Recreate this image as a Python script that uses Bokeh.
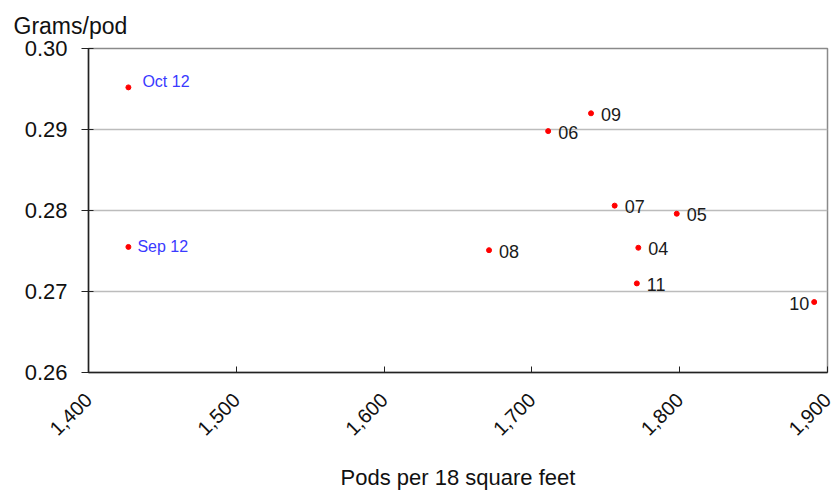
import math
from bokeh.plotting import figure
from bokeh.models import ColumnDataSource, NumeralTickFormatter, FixedTicker, Range1d
from bokeh.embed import file_html
from bokeh.resources import INLINE

# data
years = ["09", "06", "07", "05", "08", "04", "11", "10"]
pods = [1740, 1711, 1756, 1798, 1671, 1772, 1771, 1891]
grams = [0.2920, 0.2898, 0.2806, 0.2796, 0.2751, 0.2754, 0.2710, 0.2687]

forecast_labels = ["Oct 12", "Sep 12"]
forecast_pods = [1427, 1427]
forecast_grams = [0.2952, 0.2755]

x_ticks = [1400, 1500, 1600, 1700, 1800, 1900]
y_ticks = [0.26, 0.27, 0.28, 0.29, 0.30]
y_title = "Grams/pod"

FONT = "Liberation Sans"

p = figure(width=835, height=495, output_backend="svg", toolbar_location=None,
           x_range=Range1d(1400, 1900), y_range=Range1d(0.26, 0.30),
           min_border_left=88, min_border_right=8, min_border_top=47, min_border_bottom=123,
           title=y_title)
p.title.text_font = FONT
p.title.text_font_size = "23px"
p.title.text_font_style = "normal"
p.title.text_color = "#111111"
p.title.align = "left"
p.title.offset = -75
p.title.standoff = 20

p.outline_line_color = "#8a8a8a"
p.outline_line_width = 1.5

p.xgrid.grid_line_color = None
p.ygrid.grid_line_color = "#bcbcbc"
p.ygrid.grid_line_width = 1.5

p.xaxis.ticker = FixedTicker(ticks=x_ticks)
p.xaxis.formatter = NumeralTickFormatter(format="0,0")
p.xaxis.major_label_orientation = math.pi / 4
p.xaxis.major_label_text_font = FONT
p.xaxis.major_label_text_font_size = "20px"
p.xaxis.major_label_text_color = "#111111"
p.xaxis.major_label_standoff = 24
p.xaxis.major_tick_in = 6
p.xaxis.major_tick_out = 0
p.xaxis.minor_tick_line_color = None
p.xaxis.axis_line_color = "#222222"
p.xaxis.axis_line_width = 1.5
p.xaxis.major_tick_line_color = "#222222"
p.xaxis.axis_label = "Pods per 18 square feet"
p.xaxis.axis_label_text_font = FONT
p.xaxis.axis_label_text_font_size = "22px"
p.xaxis.axis_label_text_font_style = "normal"
p.xaxis.axis_label_text_color = "#111111"
p.xaxis.axis_label_standoff = 20

p.yaxis.ticker = FixedTicker(ticks=y_ticks)
p.yaxis.formatter = NumeralTickFormatter(format="0.00")
p.yaxis.major_label_text_font = FONT
p.yaxis.major_label_text_font_size = "22px"
p.yaxis.major_label_text_color = "#111111"
p.yaxis.major_tick_in = 5
p.yaxis.major_tick_out = 7
p.yaxis.minor_tick_line_color = None
p.yaxis.axis_line_color = "#222222"
p.yaxis.axis_line_width = 1.5
p.yaxis.major_tick_line_color = "#222222"
p.yaxis.major_label_standoff = 14

src = ColumnDataSource(dict(x=pods, y=grams, t=years))
p.scatter("x", "y", source=src, size=5, color="red", line_color="red")

fsrc = ColumnDataSource(dict(x=forecast_pods, y=forecast_grams, t=forecast_labels))
p.scatter("x", "y", source=fsrc, size=5, color="red", line_color="red")

# year labels (all to the right except the last one)
right_src = ColumnDataSource(dict(x=pods[:-1], y=grams[:-1], t=years[:-1]))
p.text("x", "y", text="t", source=right_src, x_offset=10, y_offset=1,
       text_font_size="18px", text_baseline="middle", text_color="#1a1a1a",
       text_font={"value": FONT})
left_src = ColumnDataSource(dict(x=pods[-1:], y=grams[-1:], t=years[-1:]))
p.text("x", "y", text="t", source=left_src, x_offset=-5, y_offset=1,
       text_font_size="18px", text_baseline="middle", text_align="right", text_color="#1a1a1a",
       text_font={"value": FONT})

oct_src = ColumnDataSource(dict(x=forecast_pods[:1], y=forecast_grams[:1], t=forecast_labels[:1]))
p.text("x", "y", text="t", source=oct_src, x_offset=14, y_offset=-6,
       text_font_size="16px", text_baseline="middle", text_color="#3a3aff",
       text_font={"value": FONT})
sep_src = ColumnDataSource(dict(x=forecast_pods[1:], y=forecast_grams[1:], t=forecast_labels[1:]))
p.text("x", "y", text="t", source=sep_src, x_offset=9, y_offset=0,
       text_font_size="16px", text_baseline="middle", text_color="#3a3aff",
       text_font={"value": FONT})

open("out.html", "w").write(file_html(p, INLINE))
